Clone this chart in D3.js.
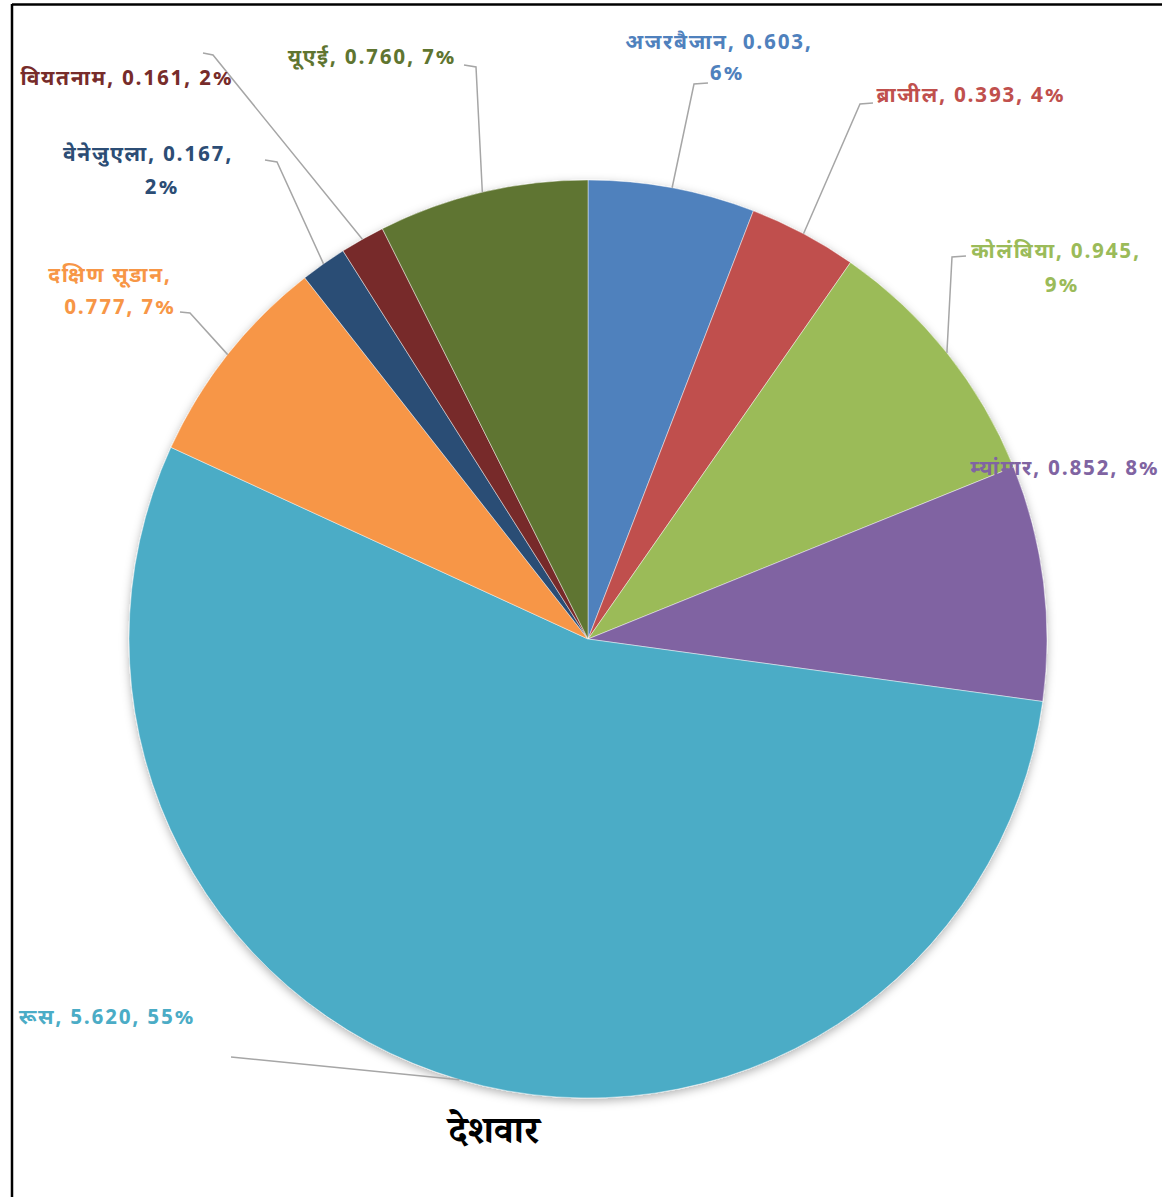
<!DOCTYPE html>
<html lang="hi">
<head>
    <meta charset="UTF-8">
    <title>देशवार</title>
    <script src="https://d3js.org/d3.v7.min.js"></script>
    <style>
        body { margin: 0; background: #fff; }
        .lbl { font-family: "Noto Sans Devanagari", "Noto Sans", "DejaVu Sans", sans-serif; font-weight: bold; font-size: 21px; letter-spacing: 1.7px; }
    </style>
</head>
<body>
    <div id="chart"></div>

    <script>
        // Data
        const categories = ["अजरबैजान", "ब्राजील", "कोलंबिया", "म्यांमार", "रूस", "दक्षिण सूडान", "वेनेजुएला", "वियतनाम", "यूएई"];
        const values = [0.603, 0.393, 0.945, 0.852, 5.620, 0.777, 0.167, 0.161, 0.760];
        const percents = [6, 4, 9, 8, 55, 7, 2, 2, 7];
        const title = "देशवार";

        // Excel 2010 palette
        const colors = ["#4F81BD", "#C0504D", "#9BBB59", "#8064A2", "#4BACC6", "#F79646", "#2C4D75", "#772C2A", "#5F7530"];

        // Label placement (line centres, leader elbow and tail); split = where line 2 starts
        const labelLayout = [
            { lines: [[719, 42], [727, 73]], split: 2, elbow: [694, 84], tail: [708, 83] },
            { lines: [[971, 95]], split: 3, elbow: [860, 104], tail: [873, 103] },
            { lines: [[1056, 251], [1062, 285]], split: 2, elbow: [952, 257], tail: [966, 256] },
            { lines: [[1065, 468]], split: 3, elbow: null },
            { lines: [[107, 1017]], split: 3, elbow: [231, 1057], tail: [231, 1057] },
            { lines: [[110, 275], [120, 307]], split: 1, elbow: [190, 313], tail: [180, 312] },
            { lines: [[148, 154], [162, 187]], split: 2, elbow: [277, 162], tail: [265, 160] },
            { lines: [[127, 78]], split: 3, elbow: [213, 55], tail: [203, 53] },
            { lines: [[372, 57]], split: 3, elbow: [476, 67], tail: [464, 65] }
        ];

        const W = 1162, H = 1197;
        const cx = 588, cy = 639, r = 459;

        const svg = d3.select("#chart")
            .append("svg")
            .attr("width", W)
            .attr("height", H);

        // frame (left and top edges visible)
        svg.append("line").attr("x1", 12).attr("x2", W).attr("y1", 4.5).attr("y2", 4.5)
            .attr("stroke", "#000").attr("stroke-width", 2.5);
        svg.append("line").attr("x1", 12).attr("x2", 12).attr("y1", 4).attr("y2", H)
            .attr("stroke", "#000").attr("stroke-width", 2.5);

        const defs = svg.append("defs");
        const f = defs.append("filter").attr("id", "shadow")
            .attr("x", "-10%").attr("y", "-10%").attr("width", "120%").attr("height", "120%");
        f.append("feDropShadow").attr("dx", 0).attr("dy", 3).attr("stdDeviation", 5)
            .attr("flood-color", "#000").attr("flood-opacity", 0.3);

        const data = categories.map((c, i) => ({ name: c, value: values[i], pct: percents[i], i }));

        const pie = d3.pie().sort(null).value(d => d.value);
        const arcs = pie(data);
        const arc = d3.arc().innerRadius(0).outerRadius(r);
        const edge = d3.arc().innerRadius(r).outerRadius(r);

        const g = svg.append("g").attr("transform", `translate(${cx},${cy})`);

        g.append("g")
            .attr("filter", "url(#shadow)")
            .selectAll("path")
            .data(arcs)
            .join("path")
            .attr("d", arc)
            .attr("fill", d => colors[d.data.i])
            .attr("stroke", "rgba(255,255,255,0.45)")
            .attr("stroke-width", 1);

        // leader lines
        svg.append("g")
            .selectAll("polyline")
            .data(arcs.filter(d => labelLayout[d.data.i].elbow))
            .join("polyline")
            .attr("fill", "none")
            .attr("stroke", "#A6A6A6")
            .attr("stroke-width", 1.5)
            .attr("points", d => {
                const p = edge.centroid(d);
                const L = labelLayout[d.data.i];
                return [[cx + p[0], cy + p[1]], L.elbow, L.tail].map(q => q.join(",")).join(" ");
            });

        // labels
        const parts = d => [d.name, d.value.toFixed(3), d.pct + "%"];
        const labels = svg.append("g")
            .selectAll("text")
            .data(data)
            .join("text")
            .attr("class", "lbl")
            .attr("fill", d => colors[d.i])
            .attr("text-anchor", "middle");

        labels.each(function (d) {
            const L = labelLayout[d.i];
            const p = parts(d);
            const rows = L.lines.length === 1
                ? [p.join(", ")]
                : [p.slice(0, L.split).join(", ") + ",", p.slice(L.split).join(", ")];
            d3.select(this).selectAll("tspan")
                .data(rows)
                .join("tspan")
                .attr("x", (t, k) => L.lines[k][0])
                .attr("y", (t, k) => L.lines[k][1])
                .attr("dy", "0.35em")
                .text(t => t);
        });

        // title
        svg.append("text")
            .attr("x", 494)
            .attr("y", 1130)
            .attr("dy", "0.35em")
            .attr("text-anchor", "middle")
            .attr("font-family", "'Noto Serif Devanagari', 'Noto Sans Devanagari', serif")
            .attr("font-weight", "bold")
            .attr("font-size", 38)
            .attr("fill", "#000")
            .text(title);
    </script>
</body>
</html>
